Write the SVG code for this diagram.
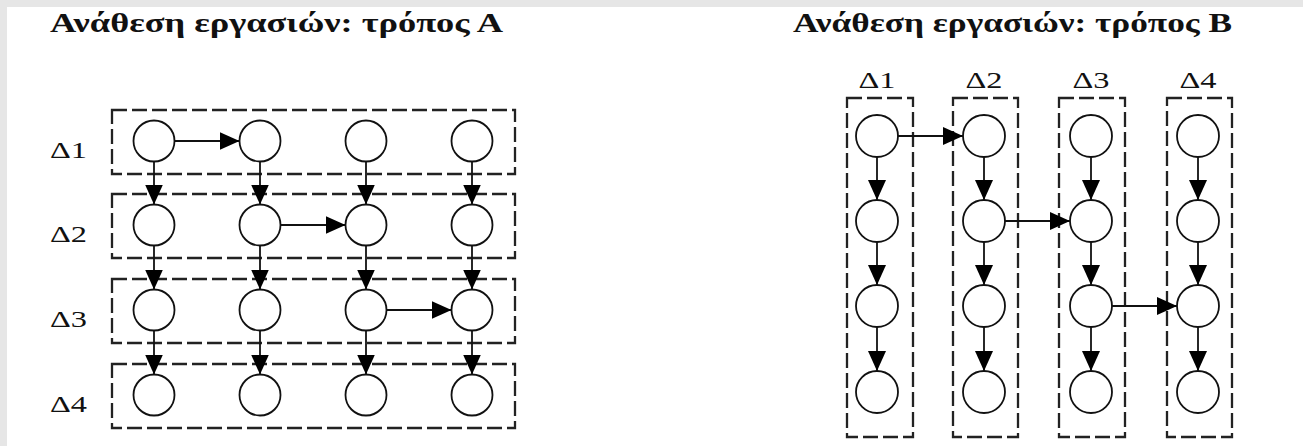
<svg xmlns="http://www.w3.org/2000/svg" width="1303" height="446" viewBox="0 0 1303 446">
  <style>
    .title { font-family: "Liberation Serif", "Times New Roman", "DejaVu Serif", serif; font-size: 28px; font-weight: bold; fill: #111; }
    .lbl { font-family: "Liberation Serif", "Times New Roman", "DejaVu Serif", serif; font-size: 24px; fill: #111; }
    .frame { fill: none; stroke: #222; stroke-width: 2.3; stroke-dasharray: 15 5; }
    .task { fill: #fff; stroke: #111; stroke-width: 1.8; }
    .edge { fill: none; stroke: #111; stroke-width: 1.8; marker-end: url(#arrow); }
  </style>
  <defs>
    <marker id="arrow" markerUnits="userSpaceOnUse" markerWidth="20" markerHeight="18" refX="20" refY="9" orient="auto">
      <path d="M0,0 L20,9 L0,18 Z" fill="#000"/>
    </marker>
  </defs>

  <!-- page background with a thin grey margin on top and left -->
  <rect x="0" y="0" width="1303" height="446" fill="#e6e6e6"/>
  <rect x="7" y="7" width="1296" height="439" fill="#fff"/>

  <!-- ===== Scheme A: one processor per row ===== -->
  <text class="title" x="50" y="32" textLength="453" lengthAdjust="spacingAndGlyphs">Ανάθεση εργασιών: τρόπος Α</text>

  <g id="a-p1">
    <rect class="frame" x="112" y="110" width="403" height="64"/>
    <text class="lbl" x="50" y="158" textLength="37" lengthAdjust="spacingAndGlyphs">Δ1</text>
  </g>
  <g id="a-p2">
    <rect class="frame" x="112" y="194" width="403" height="64"/>
    <text class="lbl" x="50" y="242" textLength="37" lengthAdjust="spacingAndGlyphs">Δ2</text>
  </g>
  <g id="a-p3">
    <rect class="frame" x="112" y="279" width="403" height="64"/>
    <text class="lbl" x="50" y="327" textLength="37" lengthAdjust="spacingAndGlyphs">Δ3</text>
  </g>
  <g id="a-p4">
    <rect class="frame" x="112" y="364" width="403" height="64"/>
    <text class="lbl" x="50" y="412" textLength="37" lengthAdjust="spacingAndGlyphs">Δ4</text>
  </g>

  <g id="a-edges">
    <!-- row-wise chains -->
    <line class="edge" x1="174.5" y1="141" x2="239.5" y2="141"/>
    <line class="edge" x1="280.5" y1="225" x2="345.5" y2="225"/>
    <line class="edge" x1="386.5" y1="310" x2="451.5" y2="310"/>
    <!-- column 1 -->
    <line class="edge" x1="154" y1="161.5" x2="154" y2="204.5"/>
    <line class="edge" x1="154" y1="245.5" x2="154" y2="289.5"/>
    <line class="edge" x1="154" y1="330.5" x2="154" y2="374.5"/>
    <!-- column 2 -->
    <line class="edge" x1="260" y1="161.5" x2="260" y2="204.5"/>
    <line class="edge" x1="260" y1="245.5" x2="260" y2="289.5"/>
    <line class="edge" x1="260" y1="330.5" x2="260" y2="374.5"/>
    <!-- column 3 -->
    <line class="edge" x1="366" y1="161.5" x2="366" y2="204.5"/>
    <line class="edge" x1="366" y1="245.5" x2="366" y2="289.5"/>
    <line class="edge" x1="366" y1="330.5" x2="366" y2="374.5"/>
    <!-- column 4 -->
    <line class="edge" x1="472" y1="161.5" x2="472" y2="204.5"/>
    <line class="edge" x1="472" y1="245.5" x2="472" y2="289.5"/>
    <line class="edge" x1="472" y1="330.5" x2="472" y2="374.5"/>
  </g>

  <g id="a-t11"><circle class="task" cx="154" cy="141" r="20.5"/></g>
  <g id="a-t12"><circle class="task" cx="260" cy="141" r="20.5"/></g>
  <g id="a-t13"><circle class="task" cx="366" cy="141" r="20.5"/></g>
  <g id="a-t14"><circle class="task" cx="472" cy="141" r="20.5"/></g>
  <g id="a-t21"><circle class="task" cx="154" cy="225" r="20.5"/></g>
  <g id="a-t22"><circle class="task" cx="260" cy="225" r="20.5"/></g>
  <g id="a-t23"><circle class="task" cx="366" cy="225" r="20.5"/></g>
  <g id="a-t24"><circle class="task" cx="472" cy="225" r="20.5"/></g>
  <g id="a-t31"><circle class="task" cx="154" cy="310" r="20.5"/></g>
  <g id="a-t32"><circle class="task" cx="260" cy="310" r="20.5"/></g>
  <g id="a-t33"><circle class="task" cx="366" cy="310" r="20.5"/></g>
  <g id="a-t34"><circle class="task" cx="472" cy="310" r="20.5"/></g>
  <g id="a-t41"><circle class="task" cx="154" cy="395" r="20.5"/></g>
  <g id="a-t42"><circle class="task" cx="260" cy="395" r="20.5"/></g>
  <g id="a-t43"><circle class="task" cx="366" cy="395" r="20.5"/></g>
  <g id="a-t44"><circle class="task" cx="472" cy="395" r="20.5"/></g>

  <!-- ===== Scheme B: one processor per column ===== -->
  <text class="title" x="793" y="32" textLength="439" lengthAdjust="spacingAndGlyphs">Ανάθεση εργασιών: τρόπος Β</text>

  <g id="b-p1">
    <rect class="frame" x="847" y="98" width="66" height="339"/>
    <text class="lbl" x="877" y="88" text-anchor="middle" textLength="37" lengthAdjust="spacingAndGlyphs">Δ1</text>
  </g>
  <g id="b-p2">
    <rect class="frame" x="953" y="98" width="65" height="339"/>
    <text class="lbl" x="984" y="88" text-anchor="middle" textLength="37" lengthAdjust="spacingAndGlyphs">Δ2</text>
  </g>
  <g id="b-p3">
    <rect class="frame" x="1059" y="98" width="66" height="339"/>
    <text class="lbl" x="1091" y="88" text-anchor="middle" textLength="37" lengthAdjust="spacingAndGlyphs">Δ3</text>
  </g>
  <g id="b-p4">
    <rect class="frame" x="1167" y="98" width="65" height="339"/>
    <text class="lbl" x="1198" y="88" text-anchor="middle" textLength="37" lengthAdjust="spacingAndGlyphs">Δ4</text>
  </g>

  <g id="b-edges">
    <!-- hand-offs between processors -->
    <line class="edge" x1="898" y1="136" x2="963" y2="136"/>
    <line class="edge" x1="1005" y1="221" x2="1070" y2="221"/>
    <line class="edge" x1="1112" y1="306" x2="1177" y2="306"/>
    <!-- column 1 -->
    <line class="edge" x1="877" y1="157" x2="877" y2="200"/>
    <line class="edge" x1="877" y1="242" x2="877" y2="285"/>
    <line class="edge" x1="877" y1="327" x2="877" y2="371"/>
    <!-- column 2 -->
    <line class="edge" x1="984" y1="157" x2="984" y2="200"/>
    <line class="edge" x1="984" y1="242" x2="984" y2="285"/>
    <line class="edge" x1="984" y1="327" x2="984" y2="371"/>
    <!-- column 3 -->
    <line class="edge" x1="1091" y1="157" x2="1091" y2="200"/>
    <line class="edge" x1="1091" y1="242" x2="1091" y2="285"/>
    <line class="edge" x1="1091" y1="327" x2="1091" y2="371"/>
    <!-- column 4 -->
    <line class="edge" x1="1198" y1="157" x2="1198" y2="200"/>
    <line class="edge" x1="1198" y1="242" x2="1198" y2="285"/>
    <line class="edge" x1="1198" y1="327" x2="1198" y2="371"/>
  </g>

  <g id="b-t11"><circle class="task" cx="877" cy="136" r="21"/></g>
  <g id="b-t12"><circle class="task" cx="877" cy="221" r="21"/></g>
  <g id="b-t13"><circle class="task" cx="877" cy="306" r="21"/></g>
  <g id="b-t14"><circle class="task" cx="877" cy="392" r="21"/></g>
  <g id="b-t21"><circle class="task" cx="984" cy="136" r="21"/></g>
  <g id="b-t22"><circle class="task" cx="984" cy="221" r="21"/></g>
  <g id="b-t23"><circle class="task" cx="984" cy="306" r="21"/></g>
  <g id="b-t24"><circle class="task" cx="984" cy="392" r="21"/></g>
  <g id="b-t31"><circle class="task" cx="1091" cy="136" r="21"/></g>
  <g id="b-t32"><circle class="task" cx="1091" cy="221" r="21"/></g>
  <g id="b-t33"><circle class="task" cx="1091" cy="306" r="21"/></g>
  <g id="b-t34"><circle class="task" cx="1091" cy="392" r="21"/></g>
  <g id="b-t41"><circle class="task" cx="1198" cy="136" r="21"/></g>
  <g id="b-t42"><circle class="task" cx="1198" cy="221" r="21"/></g>
  <g id="b-t43"><circle class="task" cx="1198" cy="306" r="21"/></g>
  <g id="b-t44"><circle class="task" cx="1198" cy="392" r="21"/></g>
</svg>
